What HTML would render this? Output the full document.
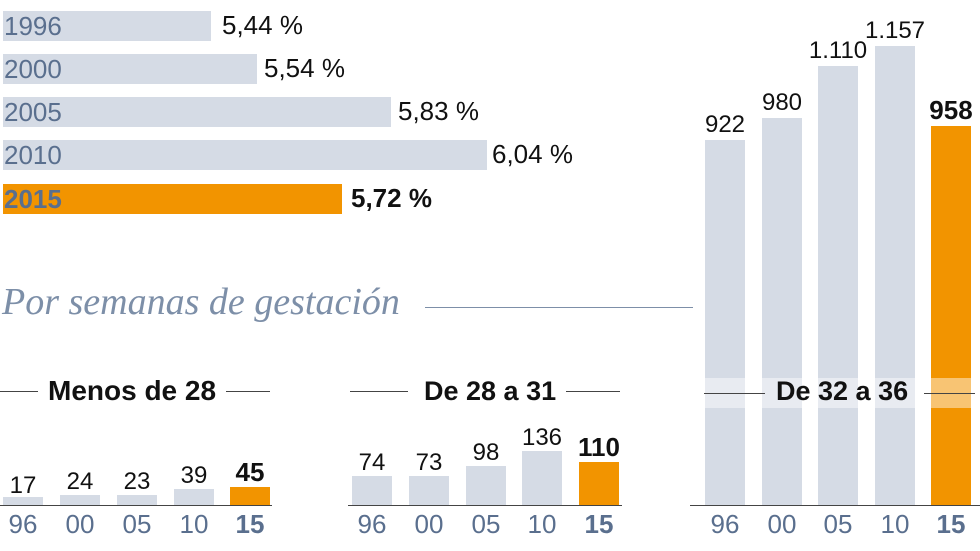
<!DOCTYPE html><html><head><style>
body{margin:0;width:980px;height:551px;background:#fff;overflow:hidden;position:relative;font-family:"Liberation Sans",sans-serif}
.a{position:absolute}
.g{background:#d5dbe5}.o{background:#f29400}
.yl{color:#5a6f8e;font-size:26px;line-height:30px}
.v{font-size:26px;color:#111;white-space:nowrap}
.n{font-size:24px;color:#111;text-align:center;width:70px;margin-left:-15px}
.ax{font-size:26px;color:#5a6f8e;text-align:center;width:70px;margin-left:-15px}
.ln{height:1px;background:#444}
.h{font-size:27px;font-weight:bold;color:#111;white-space:nowrap}
</style></head><body>
<div class="a g" style="left:3px;top:11px;width:208px;height:30px"></div><div class="a yl" style="left:4px;top:11px">1996</div><div class="a v" style="left:222px;top:10px">5,44 %</div>
<div class="a g" style="left:3px;top:54px;width:254px;height:30px"></div><div class="a yl" style="left:4px;top:54px">2000</div><div class="a v" style="left:264px;top:53px">5,54 %</div>
<div class="a g" style="left:3px;top:97px;width:388px;height:30px"></div><div class="a yl" style="left:4px;top:97px">2005</div><div class="a v" style="left:398px;top:96px">5,83 %</div>
<div class="a g" style="left:3px;top:140px;width:484px;height:30px"></div><div class="a yl" style="left:4px;top:140px">2010</div><div class="a v" style="left:492px;top:139px">6,04 %</div>
<div class="a o" style="left:3px;top:184px;width:339px;height:30px"></div><div class="a yl" style="left:4px;top:184px;font-weight:bold">2015</div><div class="a v" style="left:351px;top:183px;font-weight:bold">5,72 %</div>

<div class="a" style="left:2px;top:280px;font-family:'Liberation Serif',serif;font-style:italic;font-size:38px;color:#7d8fa8;white-space:nowrap">Por semanas de gestación</div>
<div class="a ln" style="left:425px;top:307px;width:268px;background:#7d8fa8"></div>

<div class="a g" style="left:705px;top:140px;width:40px;height:365px"></div>
<div class="a g" style="left:762px;top:118px;width:40px;height:387px"></div>
<div class="a g" style="left:818px;top:66px;width:40px;height:439px"></div>
<div class="a g" style="left:875px;top:46px;width:40px;height:459px"></div>
<div class="a o" style="left:931px;top:126px;width:40px;height:379px"></div>
<div class="a" style="left:700px;top:378px;width:280px;height:30px;background:rgba(255,255,255,0.45)"></div>
<div class="a n" style="left:705px;top:111px">922</div>
<div class="a n" style="left:762px;top:89px">980</div>
<div class="a n" style="left:818px;top:37px">1.110</div>
<div class="a n" style="left:875px;top:17px">1.157</div>
<div class="a n" style="left:931px;top:95px;font-weight:bold;font-size:26px">958</div>
<div class="a ln" style="left:704px;top:393px;width:61px"></div><div class="a h" style="left:776px;top:376px">De 32 a 36</div><div class="a ln" style="left:924px;top:393px;width:51px"></div>
<div class="a ln" style="left:690px;top:505px;width:290px"></div>

<div class="a g" style="left:3px;top:497px;width:40px;height:8px"></div>
<div class="a g" style="left:60px;top:495px;width:40px;height:10px"></div>
<div class="a g" style="left:117px;top:495px;width:40px;height:10px"></div>
<div class="a g" style="left:174px;top:489px;width:40px;height:16px"></div>
<div class="a o" style="left:230px;top:487px;width:40px;height:18px"></div>
<div class="a n" style="left:3px;top:472px">17</div><div class="a n" style="left:60px;top:468px">24</div><div class="a n" style="left:117px;top:468px">23</div><div class="a n" style="left:174px;top:462px">39</div><div class="a n" style="left:230px;top:457px;font-weight:bold;font-size:26px">45</div>
<div class="a ln" style="left:0px;top:391px;width:38px"></div><div class="a h" style="left:48px;top:375px;font-size:28px">Menos de 28</div><div class="a ln" style="left:226px;top:391px;width:44px"></div>
<div class="a ln" style="left:0px;top:505px;width:272px"></div>

<div class="a g" style="left:352px;top:476px;width:40px;height:29px"></div>
<div class="a g" style="left:409px;top:476px;width:40px;height:29px"></div>
<div class="a g" style="left:466px;top:466px;width:40px;height:39px"></div>
<div class="a g" style="left:522px;top:451px;width:40px;height:54px"></div>
<div class="a o" style="left:579px;top:462px;width:40px;height:43px"></div>
<div class="a n" style="left:352px;top:449px">74</div><div class="a n" style="left:409px;top:449px">73</div><div class="a n" style="left:466px;top:439px">98</div><div class="a n" style="left:522px;top:424px">136</div><div class="a n" style="left:579px;top:432px;font-weight:bold;font-size:26px">110</div>
<div class="a ln" style="left:350px;top:391px;width:58px"></div><div class="a h" style="left:424px;top:376px">De 28 a 31</div><div class="a ln" style="left:566px;top:391px;width:54px"></div>
<div class="a ln" style="left:348px;top:505px;width:274px"></div>

<div class="a ax" style="left:3px;top:509px">96</div><div class="a ax" style="left:60px;top:509px">00</div><div class="a ax" style="left:117px;top:509px">05</div><div class="a ax" style="left:174px;top:509px">10</div><div class="a ax" style="left:230px;top:509px;font-weight:bold">15</div>
<div class="a ax" style="left:352px;top:509px">96</div><div class="a ax" style="left:409px;top:509px">00</div><div class="a ax" style="left:466px;top:509px">05</div><div class="a ax" style="left:522px;top:509px">10</div><div class="a ax" style="left:579px;top:509px;font-weight:bold">15</div>
<div class="a ax" style="left:705px;top:509px">96</div><div class="a ax" style="left:762px;top:509px">00</div><div class="a ax" style="left:818px;top:509px">05</div><div class="a ax" style="left:875px;top:509px">10</div><div class="a ax" style="left:931px;top:509px;font-weight:bold">15</div>
</body></html>
